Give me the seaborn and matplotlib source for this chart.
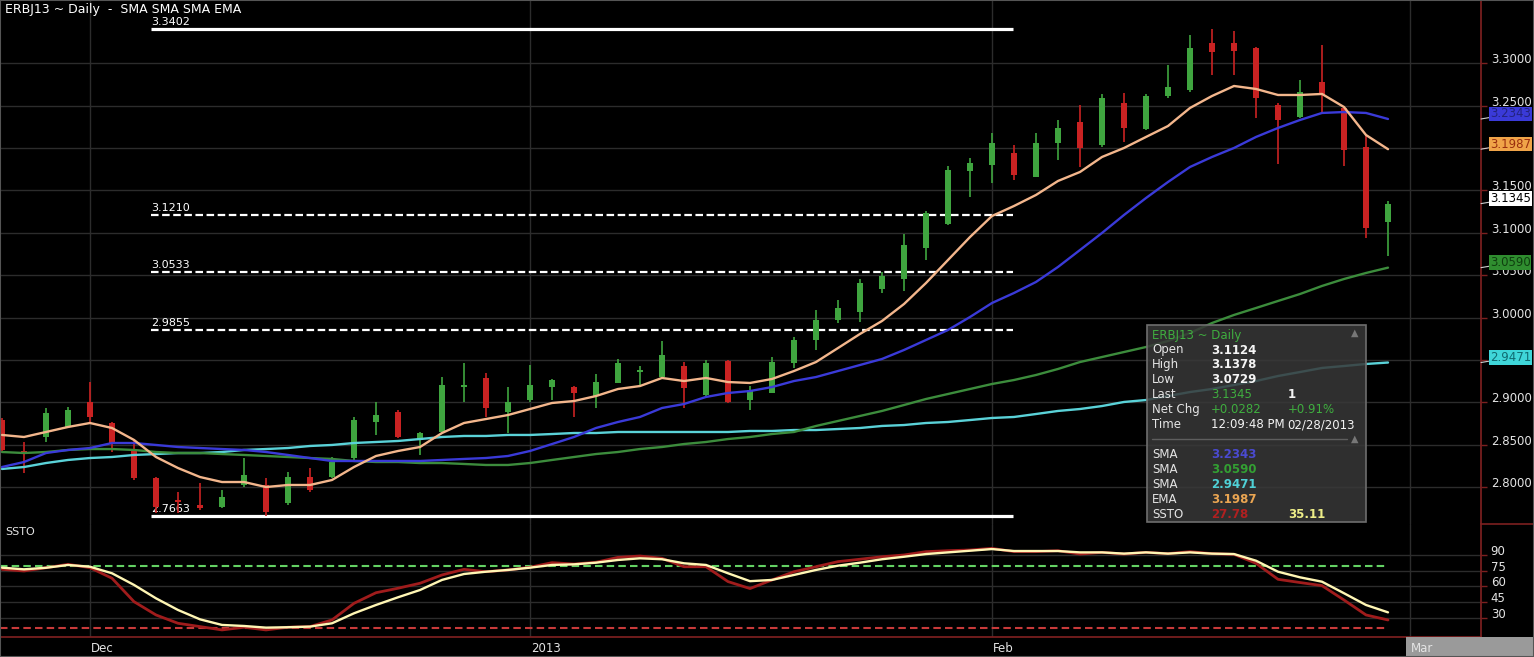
import numpy as np
import pandas as pd
import matplotlib
matplotlib.use("Agg")
import matplotlib.pyplot as plt
from matplotlib.patches import Rectangle
from matplotlib.lines import Line2D
from matplotlib.ticker import FormatStrFormatter
import seaborn as sns

# ERBJ13 daily bars, 27 Nov 2012 .. 28 Feb 2013
opens = [2.8793, 2.8428, 2.8593, 2.8711, 2.9006, 2.8758, 2.8440, 2.8109, 2.7850, 2.7791,
         2.7767, 2.8027, 2.8027, 2.7815, 2.8121, 2.8121, 2.8345, 2.8770, 2.8888, 2.8558,
         2.8652, 2.9182, 2.9289, 2.8888, 2.9029, 2.9182, 2.9182, 2.9076, 2.9230, 2.9359,
         2.9300, 2.9430, 2.9088, 2.9489, 2.9029, 2.9112, 2.9466, 2.9737, 2.9973, 3.0067,
         3.0338, 3.0456, 3.0822, 3.1105, 3.1730, 3.1800, 3.1942, 3.1659, 3.2060, 3.2307,
         3.2036, 3.2531, 3.2225, 3.2614, 3.2685, 3.3239, 3.3239, 3.3180, 3.2508, 3.2366,
         3.2779, 3.2473, 3.2013, 3.1124]
highs = [2.8817, 2.8534, 2.8935, 2.8947, 2.9241, 2.8770, 2.8558, 2.8121, 2.7944, 2.8051,
         2.7968, 2.8345, 2.8109, 2.8180, 2.8227, 2.8357, 2.8829, 2.9006, 2.8911, 2.8652,
         2.9300, 2.9466, 2.9348, 2.9182, 2.9442, 2.9277, 2.9194, 2.9336, 2.9513, 2.9430,
         2.9725, 2.9477, 2.9501, 2.9501, 2.9194, 2.9536, 2.9772, 3.0091, 3.0208, 3.0456,
         3.0539, 3.0987, 3.1258, 3.1789, 3.1883, 3.2178, 3.2036, 3.2178, 3.2331, 3.2508,
         3.2638, 3.2649, 3.2638, 3.2980, 3.3333, 3.3402, 3.3380, 3.3192, 3.2531, 3.2803,
         3.3215, 3.2484, 3.2154, 3.1378]
lows = [2.8416, 2.8168, 2.8534, 2.8699, 2.8758, 2.8416, 2.8086, 2.7697, 2.7697, 2.7732,
        2.7756, 2.8003, 2.7663, 2.7791, 2.7944, 2.8109, 2.8322, 2.8617, 2.8581, 2.8381,
        2.8652, 2.9006, 2.8829, 2.8640, 2.9006, 2.9029, 2.8829, 2.8935, 2.9230, 2.9182,
        2.9300, 2.8935, 2.9076, 2.8994, 2.8911, 2.9112, 2.9407, 2.9619, 2.9937, 2.9949,
        3.0291, 3.0315, 3.0680, 3.1093, 3.1423, 3.1588, 3.1623, 3.1659, 3.1859, 3.1777,
        3.2013, 3.2072, 3.2213, 3.2590, 3.2661, 3.2862, 3.2862, 3.2355, 3.1812, 3.2355,
        3.2425, 3.1789, 3.0940, 3.0729]
closes = [2.8440, 2.8404, 2.8876, 2.8911, 2.8829, 2.8522, 2.8109, 2.7767, 2.7826, 2.7756,
          2.7885, 2.8145, 2.7709, 2.8121, 2.7968, 2.8298, 2.8793, 2.8852, 2.8593, 2.8640,
          2.9206, 2.9206, 2.8935, 2.9006, 2.9206, 2.9265, 2.9112, 2.9241, 2.9466, 2.9383,
          2.9560, 2.9171, 2.9466, 2.9006, 2.9147, 2.9477, 2.9737, 2.9973, 3.0114, 3.0409,
          3.0491, 3.0857, 3.1234, 3.1741, 3.1824, 3.2060, 3.1682, 3.2060, 3.2237, 3.2001,
          3.2590, 3.2237, 3.2614, 3.2720, 3.3180, 3.3133, 3.3145, 3.2590, 3.2331, 3.2661,
          3.2626, 3.1977, 3.1063, 3.1345]

ema = [2.8617, 2.8593, 2.8652, 2.8711, 2.8758, 2.8699, 2.8558, 2.8357, 2.8227, 2.8121,
       2.8062, 2.8062, 2.8003, 2.8027, 2.8027, 2.8086, 2.8239, 2.8369, 2.8428, 2.8475,
       2.8640, 2.8758, 2.8805, 2.8852, 2.8923, 2.8994, 2.9017, 2.9076, 2.9159, 2.9194,
       2.9289, 2.9253, 2.9289, 2.9241, 2.9230, 2.9277, 2.9371, 2.9477, 2.9642, 2.9808,
       2.9961, 3.0161, 3.0409, 3.0680, 3.0951, 3.1199, 3.1317, 3.1447, 3.1612, 3.1718,
       3.1895, 3.2001, 3.2131, 3.2260, 3.2473, 3.2614, 3.2732, 3.2697, 3.2626, 3.2626,
       3.2638, 3.2484, 3.2154, 3.1987]
sma_blue = [2.8239, 2.8298, 2.8404, 2.8440, 2.8463, 2.8522, 2.8522, 2.8499, 2.8475, 2.8463,
            2.8451, 2.8440, 2.8416, 2.8381, 2.8345, 2.8310, 2.8310, 2.8310, 2.8310, 2.8310,
            2.8322, 2.8334, 2.8345, 2.8369, 2.8428, 2.8510, 2.8593, 2.8699, 2.8770, 2.8829,
            2.8935, 2.8982, 2.9065, 2.9112, 2.9135, 2.9182, 2.9253, 2.9300, 2.9371, 2.9442,
            2.9513, 2.9619, 2.9737, 2.9855, 3.0008, 3.0173, 3.0291, 3.0421, 3.0598, 3.0798,
            3.0999, 3.1211, 3.1411, 3.1600, 3.1777, 3.1895, 3.2001, 3.2131, 3.2237, 3.2331,
            3.2414, 3.2425, 3.2414, 3.2343]
sma_green = [2.8416, 2.8404, 2.8416, 2.8440, 2.8451, 2.8451, 2.8440, 2.8416, 2.8404, 2.8404,
             2.8392, 2.8381, 2.8369, 2.8357, 2.8345, 2.8334, 2.8310, 2.8298, 2.8298, 2.8286,
             2.8286, 2.8275, 2.8263, 2.8263, 2.8286, 2.8322, 2.8357, 2.8392, 2.8416, 2.8451,
             2.8475, 2.8510, 2.8534, 2.8569, 2.8593, 2.8628, 2.8652, 2.8723, 2.8782, 2.8841,
             2.8900, 2.8970, 2.9041, 2.9100, 2.9159, 2.9218, 2.9265, 2.9324, 2.9395, 2.9477,
             2.9536, 2.9595, 2.9654, 2.9725, 2.9819, 2.9937, 3.0032, 3.0114, 3.0197, 3.0279,
             3.0374, 3.0456, 3.0527, 3.0590]
sma_cyan = [2.8216, 2.8239, 2.8286, 2.8322, 2.8345, 2.8357, 2.8381, 2.8392, 2.8404, 2.8404,
            2.8416, 2.8440, 2.8451, 2.8463, 2.8487, 2.8499, 2.8522, 2.8534, 2.8546, 2.8569,
            2.8593, 2.8605, 2.8605, 2.8617, 2.8617, 2.8628, 2.8640, 2.8640, 2.8652, 2.8652,
            2.8652, 2.8652, 2.8652, 2.8652, 2.8664, 2.8664, 2.8675, 2.8675, 2.8687, 2.8699,
            2.8723, 2.8734, 2.8758, 2.8770, 2.8793, 2.8817, 2.8829, 2.8864, 2.8900, 2.8923,
            2.8958, 2.9006, 2.9029, 2.9076, 2.9123, 2.9159, 2.9206, 2.9253, 2.9312, 2.9359,
            2.9407, 2.9430, 2.9454, 2.9471]

ssto_k = [76.5, 74.9, 78, 81.3, 78.1, 67.9, 45.4, 32.6, 24.6, 21.4,
          18.2, 20.8, 18.2, 20.8, 21.4, 27.8, 43.8, 54, 58.3, 63.1,
          71.1, 76.5, 74.2, 75.9, 78.5, 82.9, 81.6, 83.3, 88, 89.3,
          87.1, 79, 79, 64.7, 58, 66.3, 74.2, 79, 83.9, 86.2,
          88.6, 90.3, 93.5, 94.4, 95.1, 96.7, 93.5, 93.5, 94.4, 91.2,
          92.8, 91.2, 92.8, 91.6, 93.5, 91.6, 90.9, 82.3, 66.9, 63.8,
          60.8, 47, 32.6, 27.78]
ssto_d = [78.1, 76.5, 78, 80.7, 79, 72.7, 61.5, 48.6, 37.4, 28.4,
          23, 22, 20.4, 20.8, 21.4, 24.6, 34.2, 42.2, 49.6, 56.6,
          66.3, 72, 74.2, 75.9, 78.1, 80.7, 81.3, 82.9, 85.5, 87.1,
          86.2, 82.3, 80.7, 72.7, 65.1, 66.3, 71.1, 75.9, 80, 82.9,
          86.2, 88.6, 91.2, 92.8, 94.4, 96, 94.1, 94.1, 94.1, 92.8,
          92.8, 91.6, 92.8, 91.6, 92.8, 91.6, 91.2, 84.8, 74.2, 68.8,
          64.6, 53.5, 42.2, 35.11]

month_pos = [4, 24, 45, 64]
month_labels = ["Dec", "2013", "Feb", "Mar"]

fib_levels = [3.3402, 3.1210, 3.0533, 2.9855, 2.7663]
fib_solid = [True, False, False, False, True]
fib_from, fib_to = 6.77, 45.95

price_ticks = np.arange(2.80, 3.3001, 0.05)
ssto_ticks = [30, 45, 60, 75, 90]
ssto_low, ssto_high = 20, 80
last_time = "12:09:48 PM"
last_date = "02/28/2013"

# colours
GRID = "#2c2c2c"
AXIS_RED = "#7c2020"
UP = "#3fa53f"
DOWN = "#c92222"
C_EMA = "#f3b68c"
C_BLUE = "#3a3ad8"
C_GREEN = "#3c8c3c"
C_CYAN = "#5ad2d8"
C_K = "#a01c1c"
C_D = "#fff6b4"
TXT = "#e4e4e4"

# canvas geometry (pixels), 22 px per bar
W, H = 1534, 657
BAR_PX, X0_PX = 22, 2


def fx(px):
    return px / W


def fy(py):
    return 1 - py / H


def bar_at(px):
    return (px - X0_PX) / BAR_PX


sns.set_theme(style="dark", rc={"axes.facecolor": "black", "figure.facecolor": "black",
                                 "axes.edgecolor": AXIS_RED, "grid.color": GRID})
plt.rcParams["font.family"] = ["DejaVu Sans"]

df = pd.DataFrame({"day": np.arange(len(closes)), "open": opens, "high": highs, "low": lows,
                   "close": closes, "ema": ema, "sma_blue": sma_blue, "sma_green": sma_green,
                   "sma_cyan": sma_cyan, "k": ssto_k, "d": ssto_d})

fig = plt.figure(figsize=(W / 100, H / 100), dpi=100)
ax = fig.add_axes([0, fy(524), fx(1481), 524 / H])
ax2 = fig.add_axes([0, fy(637), fx(1481), (637 - 524) / H], sharex=ax)
axx = fig.add_axes([0, 0, 1, fy(637)])

# ---- price pane
for a in (ax, ax2):
    a.set_facecolor("black")
    a.grid(True, color=GRID, lw=1)
    a.set_xticks(month_pos)
    for s in ("top", "left"):
        a.spines[s].set_visible(False)
    a.spines["right"].set_color(AXIS_RED)
    a.yaxis.tick_right()
    a.tick_params(axis="y", colors=AXIS_RED, labelcolor=TXT, length=4, width=1,
                  pad=3, labelsize=8.5)
    a.tick_params(axis="x", colors=AXIS_RED, length=0, labelbottom=False)
ax.spines["bottom"].set_visible(False)
ax2.spines["bottom"].set_color(AXIS_RED)
ax2.tick_params(axis="x", length=4)

ax.set_xlim(bar_at(0), bar_at(1481))
ax.set_yticks(price_ticks)
ax.set_ylim(2.7567, 3.3746)
ax.yaxis.set_major_formatter(FormatStrFormatter("%.4f"))
plt.setp(ax.get_yticklabels(), va="baseline")

# fibonacci retracement
for lvl, solid in zip(fib_levels, fib_solid):
    if solid:
        ax.hlines(lvl, fib_from, fib_to, colors="white", lw=2.3, zorder=2)
    else:
        ax.hlines(lvl, fib_from, fib_to, colors="white", lw=1.6, linestyles=(0, (3.4, 1.6)), zorder=2)
    ax.annotate(f"{lvl:.4f}", xy=(fib_from, lvl), xytext=(0, 2), textcoords="offset pixels",
                color="white", fontsize=8, ha="left", va="bottom", zorder=2)

# candles
up = df["close"] >= df["open"]
ccol = np.where(up, UP, DOWN)
body_lo = np.minimum(df["open"], df["close"])
body_h = np.maximum((df["close"] - df["open"]).abs(), 0.0014)
ax.vlines(df["day"], df["low"], df["high"], colors=ccol, lw=1.2, zorder=3)
ax.bar(df["day"], body_h, bottom=body_lo, width=0.28, color=ccol, lw=0, zorder=3)

# moving averages
for col, c in [("sma_cyan", C_CYAN), ("sma_green", C_GREEN), ("sma_blue", C_BLUE), ("ema", C_EMA)]:
    sns.lineplot(data=df, x="day", y=col, ax=ax, color=c, lw=1.7, zorder=4)
ax.set_xlabel("")
ax.set_ylabel("")

# value tags on the price axis
tags = [(sma_blue[-1], C_BLUE, "#23237e"), (ema[-1], "#f0a448", "#9a2e0e"),
        (closes[-1], "white", "black"), (sma_green[-1], "#2f8d2f", "#0f3f0f"),
        (sma_cyan[-1], "#3fd6d9", "#0f6a70")]
for v, bg, fg in tags:
    ax.annotate(f"{v:.4f}", xy=(1, v), xycoords=("axes fraction", "data"),
                xytext=(9, 5), textcoords="offset pixels", ha="left", va="center",
                color=fg, fontsize=8.5, annotation_clip=False,
                bbox=dict(boxstyle="square,pad=0.06", fc=bg, ec="none"),
                arrowprops=dict(arrowstyle="-", color="#cfcfcf", lw=0.8, shrinkA=0, shrinkB=0))

# ---- SSTO pane
ax2.set_yticks(ssto_ticks)
ax2.set_ylim(11.4, 120.1)
plt.setp(ax2.get_yticklabels(), va="baseline")
ax2.hlines(ssto_high, bar_at(0), df["day"].iloc[-1], colors="#63d163", lw=1.5,
           linestyles=(0, (3.6, 2.0)), zorder=2)
ax2.hlines(ssto_low, bar_at(0), df["day"].iloc[-1], colors="#c83a3a", lw=1.5,
           linestyles=(0, (3.6, 2.0)), zorder=2)
sns.lineplot(data=df, x="day", y="k", ax=ax2, color=C_K, lw=2.0, zorder=3)
sns.lineplot(data=df, x="day", y="d", ax=ax2, color=C_D, lw=1.7, zorder=4)
ax2.set_xlabel("")
ax2.set_ylabel("")

# ---- month strip
axx.axis("off")
axx.set_xlim(bar_at(0), bar_at(W))
axx.set_ylim(0, 1)
axx.axvspan(month_pos[-1] - 0.18, bar_at(W), color="#9a9a9a", lw=0)
for p, lab in zip(month_pos, month_labels):
    axx.text(p + 0.04, 0.45, lab, color=TXT, fontsize=8.5, ha="left", va="center")

# separator between panes in the price-axis column
fig.add_artist(Line2D([fx(1481), 1], [fy(524), fy(524)], color=AXIS_RED, lw=1.2,
                      transform=fig.transFigure))

# titles
fig.text(fx(5), fy(10), "ERBJ13 ~ Daily  -  SMA SMA SMA EMA", color="white", fontsize=9,
         va="center", ha="left")
fig.text(fx(5), fy(532), "SSTO", color=TXT, fontsize=8, va="center", ha="left")

# ---- data window box
box_l, box_t, box_r, box_b = 1147, 325, 1366, 522
fig.add_artist(Rectangle((fx(box_l), fy(box_b)), fx(box_r) - fx(box_l), fy(box_t) - fy(box_b),
                         transform=fig.transFigure, facecolor=(0.22, 0.22, 0.22, 0.86),
                         edgecolor="#6e6e6e", lw=1.2, zorder=5))


def info(x, y, s, color, bold=False, size=8.5):
    fig.text(fx(x), fy(y), s, color=color, fontsize=size, va="center", ha="left",
             fontweight="bold" if bold else "normal", zorder=6)


net = closes[-1] - closes[-2]
pct = net / closes[-2] * 100
c1, c2, c3 = 1152, 1211, 1288
WHITE = "#f4f4f4"
GREEN_TXT = "#3fae3f"
info(c1, 335, "ERBJ13 ~ Daily", GREEN_TXT)
info(1351, 333, "▲", "#777777", size=7)
info(1351, 439, "▲", "#777777", size=7)
top_rows = [("Open", f"{opens[-1]:.4f}", WHITE, True, "", WHITE),
            ("High", f"{highs[-1]:.4f}", WHITE, True, "", WHITE),
            ("Low", f"{lows[-1]:.4f}", WHITE, True, "", WHITE),
            ("Last", f"{closes[-1]:.4f}", GREEN_TXT, False, "1", WHITE),
            ("Net Chg", f"{net:+.4f}", GREEN_TXT, False, f"{pct:+.2f}%", GREEN_TXT),
            ("Time", last_time, WHITE, False, last_date, WHITE)]
for k, (lab, val, vc, vb, extra, ec) in enumerate(top_rows):
    y = 350 + 14.9 * k
    info(c1, y, lab, TXT)
    info(c2, y, val, vc, bold=vb)
    if extra:
        info(c3 - (1 if lab == "Time" else 0), y, extra, ec, bold=(extra == "1"))
fig.add_artist(Line2D([fx(1152), fx(1347)], [fy(439), fy(439)], color="#5e5e5e", lw=1,
                      transform=fig.transFigure, zorder=6))
bottom_rows = [("SMA", f"{sma_blue[-1]:.4f}", "#4a4ad0", ""),
               ("SMA", f"{sma_green[-1]:.4f}", "#33a033", ""),
               ("SMA", f"{sma_cyan[-1]:.4f}", "#4fd0d6", ""),
               ("EMA", f"{ema[-1]:.4f}", "#eaa552", ""),
               ("SSTO", f"{ssto_k[-1]:.2f}", "#b02020", f"{ssto_d[-1]:.2f}")]
for k, (lab, val, vc, extra) in enumerate(bottom_rows):
    y = 454.5 + 14.9 * k
    info(c1, y, lab, TXT)
    info(c2, y, val, vc, bold=True)
    if extra:
        info(c3, y, extra, "#eeee88", bold=True)

fig.add_artist(Rectangle((0, 0), 1, 1, transform=fig.transFigure, fill=False,
                         edgecolor="#555555", lw=1.5, zorder=10))

fig.savefig("out.png", dpi=100, facecolor="black")
